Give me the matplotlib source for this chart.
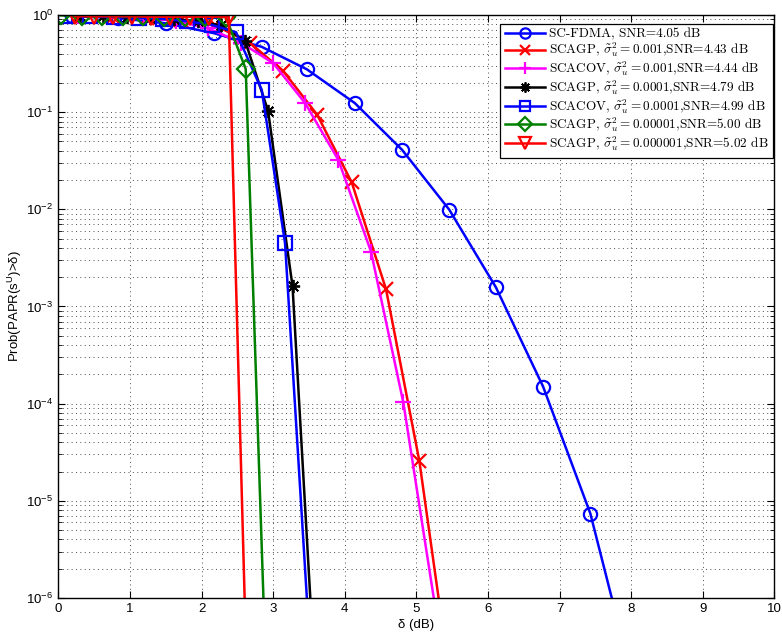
import matplotlib
matplotlib.use("Agg")
import matplotlib.pyplot as plt
from matplotlib.font_manager import FontProperties
from matplotlib.ticker import LogLocator, FixedLocator, NullFormatter

plt.rcParams['font.family'] = ['Liberation Sans', 'DejaVu Sans']

# ---- data ----
x_scfdma = [0.19, 0.84, 1.50, 2.17, 2.84, 3.47, 4.14, 4.80, 5.46, 6.11, 6.77, 7.43, 8.09]
y_scfdma = [0.97, 0.93, 0.82, 0.65, 0.47, 0.276, 0.124, 0.041, 0.0099, 1.58e-3, 1.5e-4, 7.4e-6, 9e-8]

x_agp3 = [0.29, 0.77, 1.24, 1.72, 2.19, 2.67, 3.14, 3.617, 4.098, 4.577, 5.042, 5.52]
y_agp3 = [0.97, 0.96, 0.93, 0.88, 0.78, 0.52, 0.265, 0.0935, 0.0189, 1.5e-3, 2.57e-5, 8e-8]

x_cov3 = [0.28, 0.73, 1.19, 1.64, 2.09, 2.549, 3.003, 3.446, 3.911, 4.367, 4.818, 5.27]
y_cov3 = [0.97, 0.96, 0.93, 0.87, 0.73, 0.52, 0.318, 0.124, 0.0322, 3.66e-3, 1.03e-4, 7.5e-7]

x_agp4 = [0.297, 0.627, 0.957, 1.287, 1.617, 1.947, 2.277, 2.607, 2.929, 3.271, 3.60]
y_agp4 = [0.98, 0.97, 0.96, 0.94, 0.91, 0.86, 0.78, 0.544, 0.103, 1.61e-3, 9e-8]

x_cov4 = [0.10, 0.44, 0.78, 1.12, 1.46, 1.80, 2.14, 2.482, 2.841, 3.166, 3.50]
y_cov4 = [0.98, 0.97, 0.96, 0.94, 0.91, 0.86, 0.79, 0.664, 0.169, 4.5e-3, 4.5e-7]

x_agp5 = [0.038, 0.33, 0.61, 0.90, 1.18, 1.48, 1.77, 2.05, 2.34, 2.617, 2.91]
y_agp5 = [0.99, 0.98, 0.98, 0.97, 0.97, 0.96, 0.96, 0.96, 0.95, 0.278, 1e-7]

x_agp6 = [0.233, 0.50, 0.765, 1.03, 1.30, 1.565, 1.835, 2.105, 2.38, 2.65]
y_agp6 = [0.97, 0.97, 0.97, 0.97, 0.96, 0.96, 0.96, 0.96, 0.96, 5e-8]

labels = [
    'SC-FDMA, SNR=4.05 dB',
    r'SCAGP, $\tilde{\sigma}_u^2 = 0.001$,SNR=4.43 dB',
    r'SCACOV, $\tilde{\sigma}_u^2 = 0.001$,SNR=4.44 dB',
    r'SCAGP, $\tilde{\sigma}_u^2 = 0.0001$,SNR=4.79 dB',
    r'SCACOV, $\tilde{\sigma}_u^2 = 0.0001$,SNR=4.99 dB',
    r'SCAGP, $\tilde{\sigma}_u^2 = 0.00001$,SNR=5.00 dB',
    r'SCAGP, $\tilde{\sigma}_u^2 = 0.000001$,SNR=5.02 dB',
]

x_ticks = list(range(0, 11))

fig = plt.figure(figsize=(7.82, 6.39), dpi=100)
ax = fig.add_axes([0.0746, 0.0642, 0.9156, 0.9124])

lw = 1.8
ms = 9.5
mew = 1.6
ax.plot(x_scfdma, y_scfdma, '-o', color='#0000ff', lw=lw, ms=ms, mew=mew, mfc='none', label=labels[0])
ax.plot(x_agp3, y_agp3, '-x', color='#ff0000', lw=lw, ms=ms, mew=mew, label=labels[1])
ax.plot(x_cov3, y_cov3, '-+', color='#ff00ff', lw=lw, ms=ms + 2, mew=mew, label=labels[2])
ax.plot(x_agp4, y_agp4, '-', marker=(8, 2, 0), color='black', lw=lw, ms=ms, mew=1.3, label=labels[3])
ax.plot(x_cov4, y_cov4, '-s', color='#0000ff', lw=lw, ms=ms, mew=mew, mfc='none', label=labels[4])
ax.plot(x_agp5, y_agp5, '-D', color='#008000', lw=lw, ms=ms, mew=mew, mfc='none', label=labels[5])
ax.plot(x_agp6, y_agp6, '-v', color='#ff0000', lw=lw, ms=ms + 2, mew=mew, mfc='none', label=labels[6])

ax.set_yscale('log')
ax.set_xlim(0, 10)
ax.set_ylim(1e-6, 1)
ax.xaxis.set_major_locator(FixedLocator(x_ticks))
ax.yaxis.set_major_locator(LogLocator(base=10, numticks=10))
ax.yaxis.set_minor_locator(LogLocator(base=10, subs=range(2, 10), numticks=20))
ax.yaxis.set_minor_formatter(NullFormatter())

grid_kw = dict(linestyle=(0, (1, 3.5)), color='0.3', lw=0.7)
ax.grid(True, which='major', **grid_kw)
ax.grid(True, which='minor', axis='y', **grid_kw)

ax.tick_params(which='both', direction='in', top=True, right=True, labelsize=9.5, color='black')
ax.tick_params(which='major', length=5, width=0.8)
ax.tick_params(which='minor', length=3, width=0.6, labelleft=False, labelbottom=False)
for s in ax.spines.values():
    s.set_linewidth(1.0)

ax.set_xlabel('δ (dB)', fontsize=9.5, labelpad=3)
ax.set_ylabel(r'Prob(PAPR(s$^{\mathregular{U}}$)>δ)', fontsize=9.5, labelpad=2)

leg_prop = FontProperties(family='cmr10', size=9.5, math_fontfamily='cm')
leg = ax.legend(loc='upper right', bbox_to_anchor=(0.9986, 0.9846), borderaxespad=0,
                prop=leg_prop, handlelength=3.0, labelspacing=0.0, handletextpad=0.35,
                borderpad=0.35, fancybox=False, framealpha=1, edgecolor='black',
                markerscale=0.78)
leg.get_frame().set_linewidth(0.9)

fig.savefig('out.png', dpi=100, facecolor='white')
